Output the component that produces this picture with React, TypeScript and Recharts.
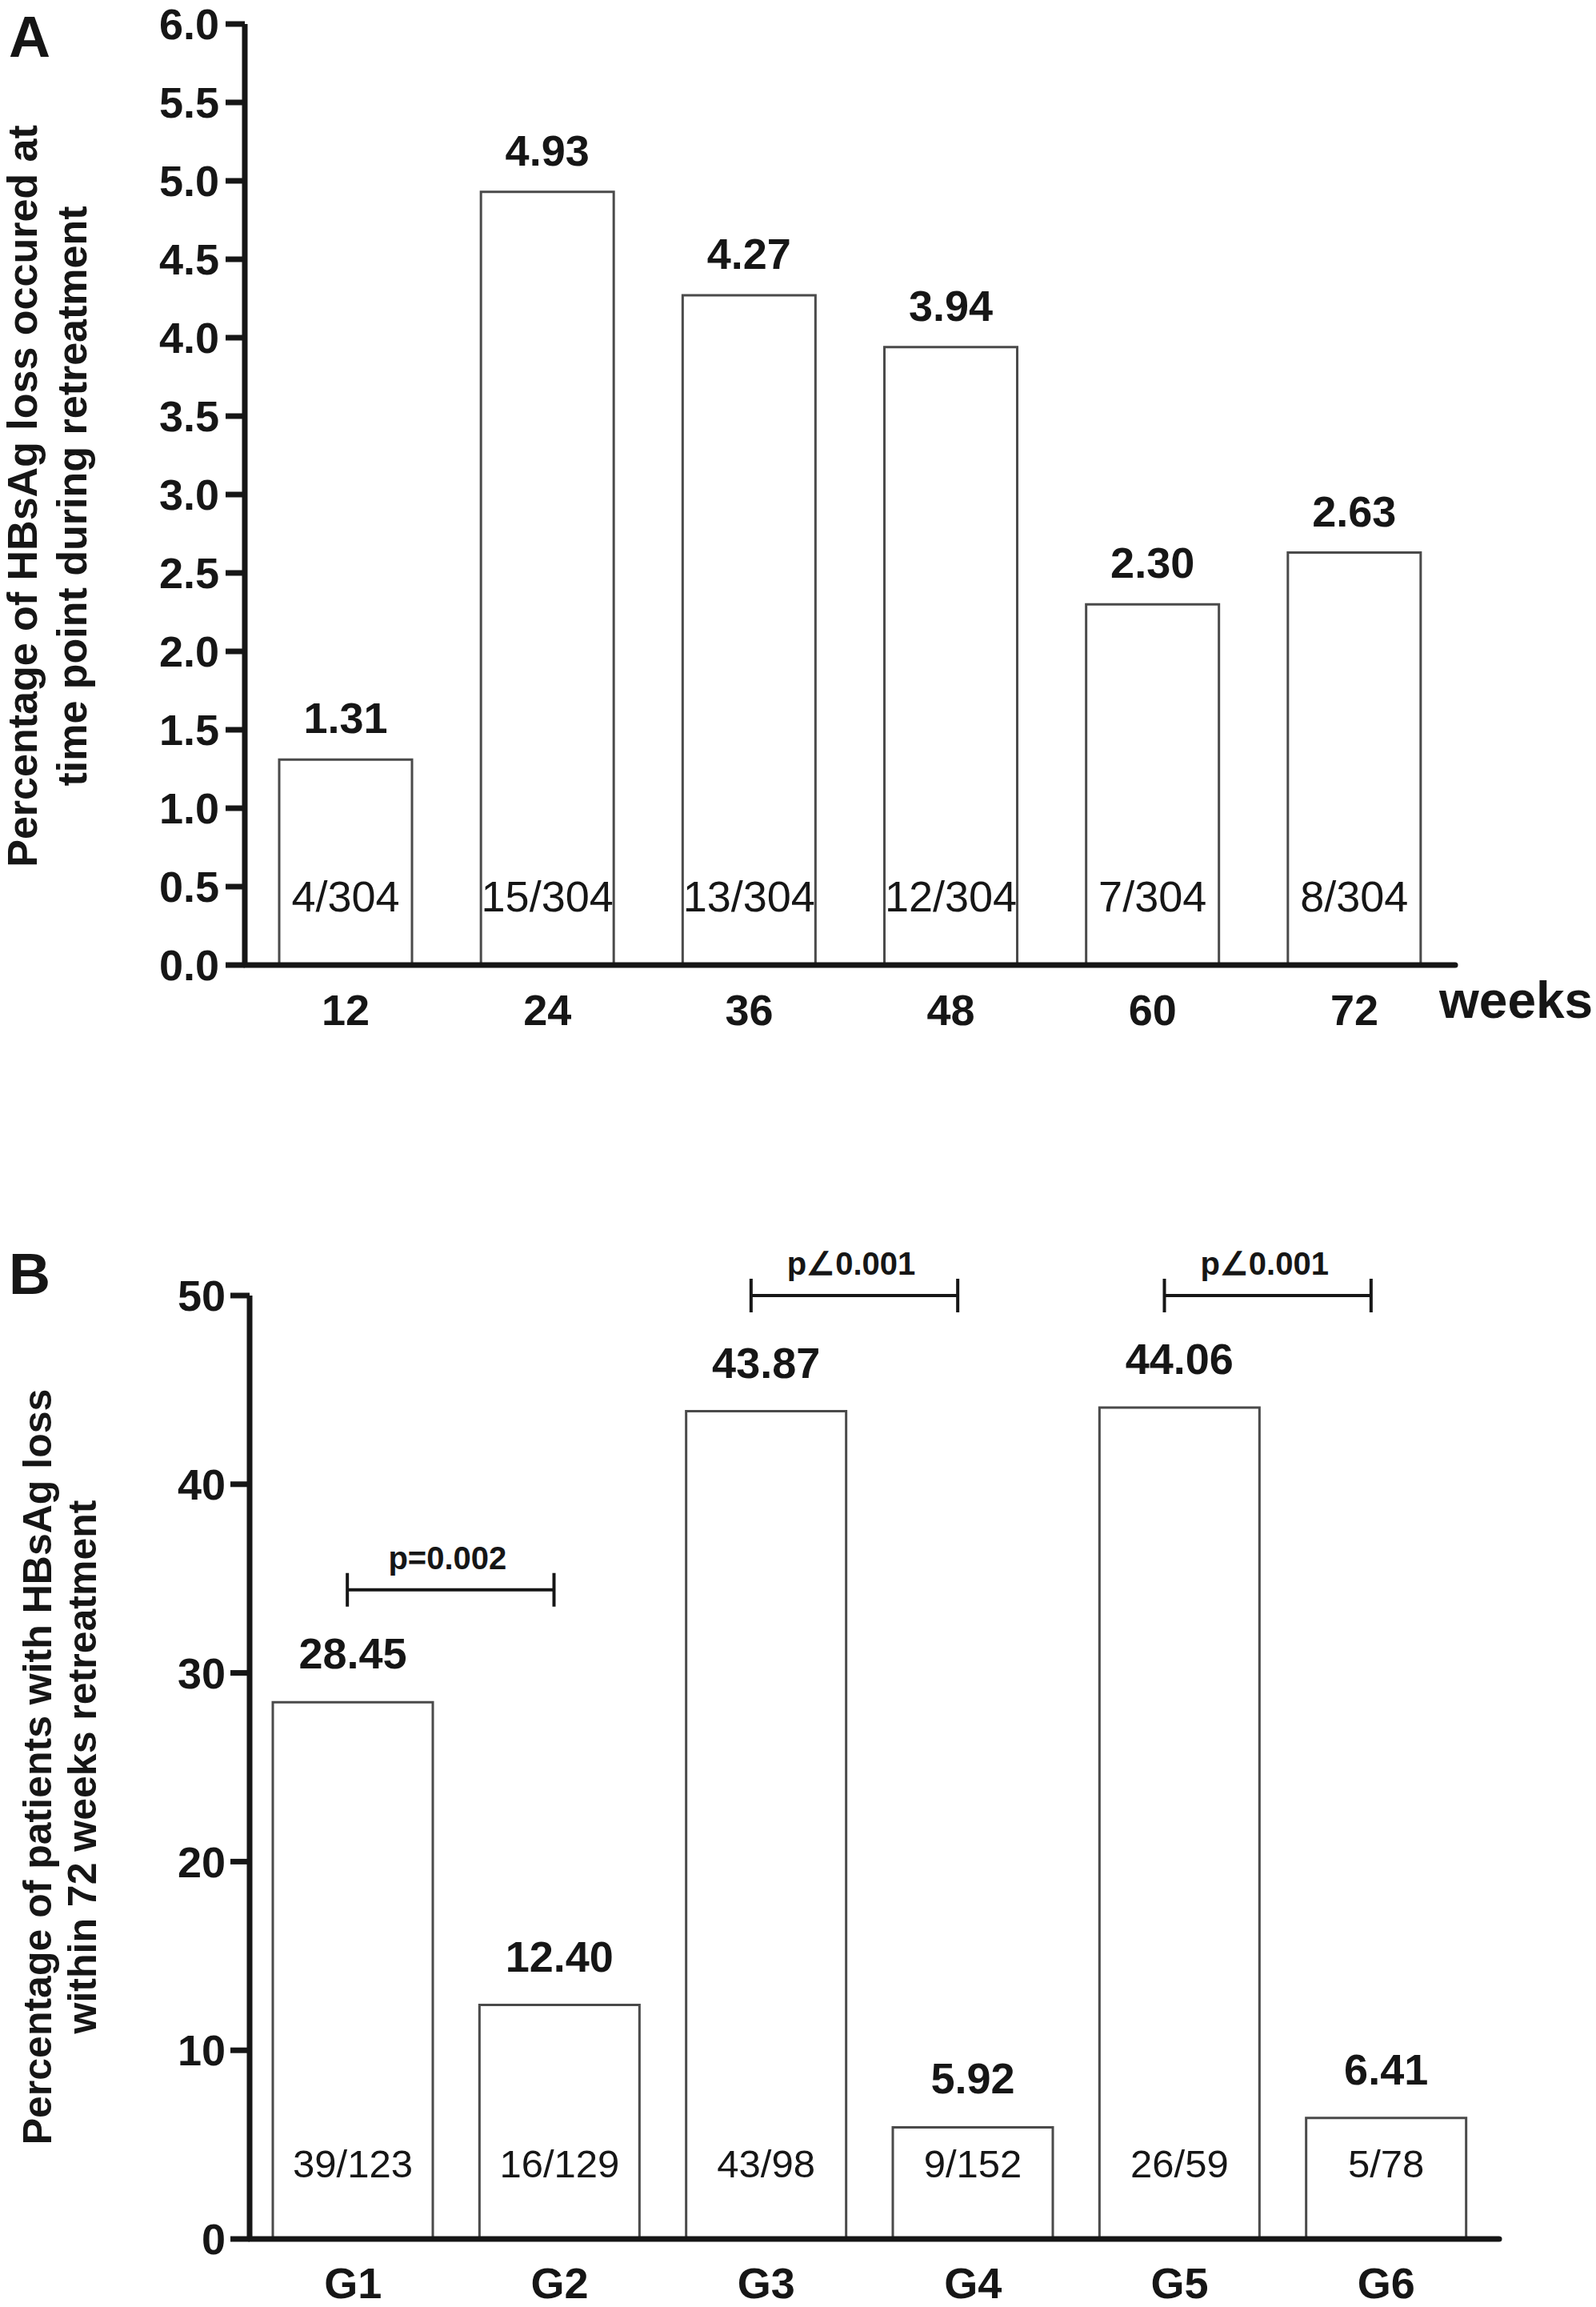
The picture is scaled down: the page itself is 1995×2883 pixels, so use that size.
import React from "react";
import { BarChart, Bar, XAxis, YAxis, LabelList, ReferenceLine } from "recharts";

// panel A: HBsAg loss per time point
const weeks = ["12", "24", "36", "48", "60", "72"];
const weekPct = [1.31, 4.93, 4.27, 3.94, 2.3, 2.63];
const weekFrac = ["4/304", "15/304", "13/304", "12/304", "7/304", "8/304"];
const weekTicks = [0, 0.5, 1, 1.5, 2, 2.5, 3, 3.5, 4, 4.5, 5, 5.5, 6];

// panel B: HBsAg loss by group within 72 weeks
const groups = ["G1", "G2", "G3", "G4", "G5", "G6"];
const groupPct = [28.45, 12.4, 43.87, 5.92, 44.06, 6.41];
const groupFrac = ["39/123", "16/129", "43/98", "9/152", "26/59", "5/78"];
const groupTicks = [0, 10, 20, 30, 40, 50];
const brackets = [
  { from: "G1", to: "G2", y: 34.4, text: "p=0.002" },
  { from: "G3", to: "G4", y: 50, text: "p\u22200.001" },
  { from: "G5", to: "G6", y: 50, text: "p\u22200.001" },
];

const dataA = weeks.map((w, i) => ({ week: w, pct: weekPct[i], frac: weekFrac[i] }));
const dataB = groups.map((g, i) => ({ group: g, pct: groupPct[i], frac: groupFrac[i] }));

const INK = "#161616";
const FONT = '"Liberation Sans", Arial, Helvetica, sans-serif';

const tickStyle = { fontSize: 54, fontWeight: "bold", fill: INK };

function insideLabel(fontSize: number, lift: number) {
  return (p: any) => (
    <text
      x={p.x + p.width / 2}
      y={p.y + p.height - lift}
      textAnchor="middle"
      fontSize={fontSize}
      fill={INK}
    >
      {p.value}
    </text>
  );
}

function axisTitle(letter: string, letterY: number, lines: string[], xs: number[], cy: number, size: number) {
  return () => (
    <g fill={INK} fontWeight="bold">
      <text x={11} y={letterY} fontSize={72}>
        {letter}
      </text>
      {lines.map((t, i) => (
        <text
          key={i}
          x={xs[i]}
          y={cy}
          fontSize={size}
          textAnchor="middle"
          transform={`rotate(-90 ${xs[i]} ${cy})`}
        >
          {t}
        </text>
      ))}
    </g>
  );
}

// significance bracket drawn from the reference line end points
function bracketShape(text: string, dx: number) {
  return (p: any) => {
    const a = p.x1 + dx;
    const b = p.x2 + dx;
    const y = p.y1;
    return (
      <g>
        <path
          d={`M${a},${y - 21}V${y + 21}M${a},${y}H${b}M${b},${y - 21}V${y + 21}`}
          stroke={INK}
          strokeWidth={4}
          fill="none"
        />
        <text x={(a + b) / 2 - 4} y={y - 26} textAnchor="middle" fontSize={40} fontWeight="bold" fill={INK}>
          {text}
        </text>
      </g>
    );
  };
}

function ChartA() {
  return (
    <BarChart width={1995} height={1400} data={dataA} margin={{ top: 30, right: 176, left: 0, bottom: 0 }}>
      <XAxis
        dataKey="week"
        height={194}
        axisLine={{ stroke: INK, strokeWidth: 7, strokeLinecap: "round" }}
        tickLine={false}
        tickSize={6}
        tickMargin={31}
        tick={tickStyle}
        label={() => (
          <text x={1799} y={1272} fontSize={64} fontWeight="bold" fill={INK}>
            weeks
          </text>
        )}
      />
      <YAxis
        width={306}
        domain={[0, 6]}
        ticks={weekTicks}
        interval={0}
        tickFormatter={(v) => v.toFixed(1)}
        axisLine={{ stroke: INK, strokeWidth: 7 }}
        tickLine={{ stroke: INK, strokeWidth: 7 }}
        tickSize={24}
        tickMargin={8}
        tick={tickStyle}
        label={axisTitle(
          "A",
          71,
          ["Percentage of HBsAg loss occured at", "time point during retreatment"],
          [46, 108],
          620,
          52
        )}
      />
      <Bar dataKey="pct" barSize={166} fill="#fff" stroke="#4a4a4a" strokeWidth={3} isAnimationActive={false}>
        <LabelList
          dataKey="pct"
          position="top"
          offset={33}
          formatter={(v: any) => Number(v).toFixed(2)}
          style={{ fontSize: 54, fontWeight: "bold", fill: INK }}
        />
        <LabelList dataKey="frac" content={insideLabel(54, 67)} />
      </Bar>
    </BarChart>
  );
}

function ChartB() {
  return (
    <BarChart width={1995} height={1433} data={dataB} margin={{ top: 169, right: 121, left: 0, bottom: 0 }}>
      <XAxis
        dataKey="group"
        height={85}
        padding={{ left: 0, right: 12 }}
        axisLine={{ stroke: INK, strokeWidth: 7, strokeLinecap: "round" }}
        tickLine={false}
        tickSize={6}
        tickMargin={30}
        tick={tickStyle}
      />
      <YAxis
        width={312}
        domain={[0, 50]}
        ticks={groupTicks}
        interval={0}
        axisLine={{ stroke: INK, strokeWidth: 7 }}
        tickLine={{ stroke: INK, strokeWidth: 7 }}
        tickSize={24}
        tickMargin={6}
        tick={tickStyle}
        label={axisTitle(
          "B",
          167,
          ["Percentage of patients with HBsAg loss", "within 72 weeks retreatment"],
          [64, 120],
          758,
          50
        )}
      />
      <Bar dataKey="pct" barSize={200} fill="#fff" stroke="#4a4a4a" strokeWidth={3} isAnimationActive={false}>
        <LabelList
          dataKey="pct"
          position="top"
          offset={42}
          formatter={(v: any) => Number(v).toFixed(2)}
          style={{ fontSize: 54, fontWeight: "bold", fill: INK }}
        />
        <LabelList dataKey="frac" content={insideLabel(49, 77)} />
      </Bar>
      {brackets.map((b, i) => (
        <ReferenceLine
          key={i}
          segment={[
            { x: b.from, y: b.y },
            { x: b.to, y: b.y },
          ]}
          ifOverflow="visible"
          shape={bracketShape(b.text, i === 0 ? -7 : -19)}
        />
      ))}
    </BarChart>
  );
}

export default function App() {
  return (
    <div
      style={{
        position: "absolute",
        left: 0,
        top: 0,
        width: 1995,
        height: 2883,
        background: "#fff",
        fontFamily: FONT,
      }}
    >
      <ChartA />
      <div style={{ position: "absolute", left: 0, top: 1450 }}>
        <ChartB />
      </div>
    </div>
  );
}
